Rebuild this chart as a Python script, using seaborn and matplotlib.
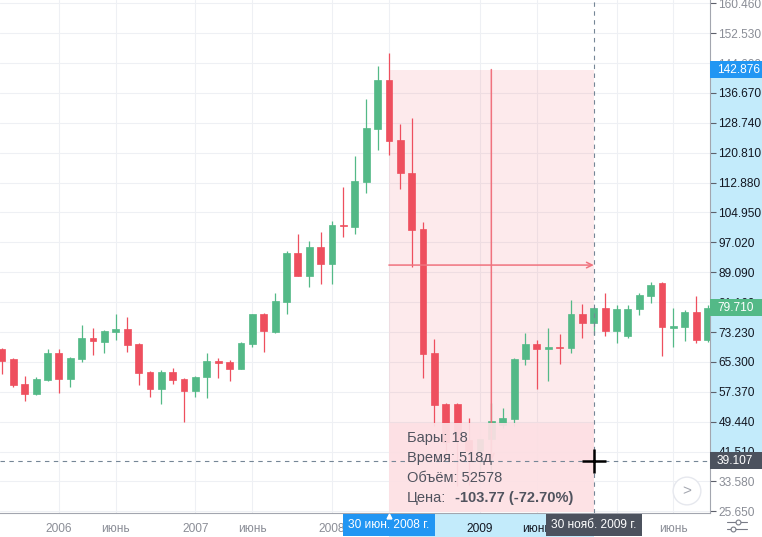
import numpy as np
import pandas as pd
import seaborn as sns
import matplotlib.pyplot as plt
from matplotlib import transforms
from matplotlib.patches import Rectangle
from matplotlib.lines import Line2D

# monthly candles (bar index = position on the time scale)
opens = [68.73, 66.08, 59.45, 56.80, 60.51, 67.67, 60.78, 66.08, 71.64, 70.58,
         73.23, 74.03, 70.05, 62.63, 58.13, 62.63, 60.78, 57.60, 61.31, 65.55,
         65.28, 63.43, 70.05, 78.00, 73.23, 81.18, 94.17, 88.07, 95.76, 91.25,
         101.59, 101.06, 112.98, 127.03, 140.01, 124.11, 115.37, 100.53, 67.67, 54.15,
         54.15, 44.60, 41.70, 44.80, 48.58, 50.17, 66.08, 70.05, 68.73, 69.26,
         68.99, 78.00, 75.62, 79.59, 73.50, 72.17, 79.33, 82.77, 86.22, 74.29,
         74.55, 78.53, 71.11]
highs = [68.99, 66.34, 61.57, 61.31, 68.73, 68.73, 66.60, 75.09, 74.29, 73.76,
         78.00, 77.21, 70.32, 62.90, 63.16, 63.69, 61.04, 61.57, 67.67, 66.34,
         65.81, 70.58, 78.00, 78.27, 83.57, 94.70, 99.20, 97.35, 99.73, 102.65,
         111.66, 119.87, 134.98, 143.72, 147.17, 128.35, 129.94, 102.38, 71.38, 54.40,
         54.40, 50.44, 43.60, 54.40, 53.10, 66.34, 72.97, 71.11, 74.29, 72.70,
         81.71, 80.65, 79.86, 83.57, 80.39, 80.39, 83.57, 86.48, 86.48, 79.59,
         79.06, 82.77, 80.50]
lows = [62.10, 58.66, 54.95, 56.54, 60.25, 57.07, 58.66, 65.28, 67.14, 67.67,
        71.11, 67.93, 59.19, 56.00, 54.15, 59.45, 49.38, 56.00, 55.74, 61.04,
        60.25, 63.43, 69.26, 67.93, 72.97, 78.00, 88.07, 85.16, 85.95, 85.95,
        98.41, 99.20, 110.07, 121.46, 120.14, 111.13, 90.46, 61.04, 48.30, 40.50,
        32.40, 32.70, 33.55, 35.65, 47.79, 48.30, 64.49, 58.13, 60.25, 64.75,
        67.67, 71.64, 72.43, 72.17, 70.32, 71.64, 77.74, 80.92, 66.87, 69.26,
        70.85, 70.32, 70.50]
closes = [65.55, 59.19, 56.80, 60.78, 67.67, 60.78, 66.34, 71.64, 70.85, 73.50,
          74.03, 69.79, 62.37, 58.13, 62.63, 60.51, 57.60, 61.31, 65.55, 65.02,
          63.43, 70.32, 78.00, 73.50, 81.45, 94.17, 88.07, 95.76, 91.25, 101.59,
          101.32, 113.25, 127.29, 140.01, 123.85, 115.37, 100.26, 67.40, 53.90, 44.00,
          44.60, 41.70, 44.76, 49.66, 50.44, 66.08, 70.05, 68.73, 69.26, 68.99,
          78.00, 75.62, 79.59, 73.50, 79.33, 79.33, 83.04, 85.69, 74.55, 74.82,
          78.53, 71.11, 79.71]

tick_pos = [5, 10, 17, 22, 29, 34, 42, 47, 54, 59]
tick_labels = ['2006', 'июнь', '2007', 'июнь', '2008', 'июнь', '2009', 'июнь', '2010', 'июнь']
price_ticks = [25.65, 33.58, 41.51, 49.44, 57.37, 65.30, 73.23, 81.16, 89.09,
               97.02, 104.95, 112.88, 120.81, 128.74, 136.67, 144.60, 152.53, 160.46]

start_bar, end_bar = 34, 52
start_price, end_price = 142.876, 39.107
last_price = 79.71
start_label = '30 июн. 2008 г.'
end_label = '30 нояб. 2009 г.'
stats = ['Бары: 18', 'Время: 518д', 'Объём: 52578']
change_label = 'Цена:'
change_value = '-103.77 (-72.70%)'

df = pd.DataFrame({'open': opens, 'high': highs, 'low': lows, 'close': closes})
df['bar'] = np.arange(len(df))
df['up'] = df['close'] >= df['open']

sns.set_style('white')
plt.rcParams['font.family'] = ['Liberation Sans', 'DejaVu Sans']

W, H = 762, 537
plot_w, plot_h = 710, 513
fig = plt.figure(figsize=(W / 100, H / 100), dpi=100)
ax = fig.add_axes([0, (H - plot_h) / H, plot_w / W, plot_h / H])

ymin, ymax = 25.20, 161.33
bar_px = 11.38
ax.set_xlim(-2 / bar_px, (plot_w - 2) / bar_px)
ax.set_ylim(ymin, ymax)
ppp = (ymax - ymin) / plot_h  # price per pixel

green, red = '#53b987', '#ee4f5e'
colors = np.where(df['up'], green, red)
ax.vlines(df['bar'], df['low'], df['high'], colors=colors, lw=0.9, zorder=2)
ax.bar(df['bar'], (df['close'] - df['open']).abs(),
       bottom=df[['open', 'close']].min(axis=1), width=0.6,
       color=colors, edgecolor=colors, linewidth=0.5, zorder=3)

# price range measurement
ax.add_patch(Rectangle((start_bar, end_price), end_bar - start_bar, start_price - end_price,
                       fc='#f23645', alpha=0.1, lw=0, zorder=1))
mid_price = (start_price + end_price) / 2
mid_bar = (start_bar + end_bar) / 2
arrow = dict(arrowstyle='->', color='#f0727e', lw=1.1, shrinkA=0, shrinkB=0, mutation_scale=10)
ax.annotate('', xy=(end_bar, mid_price), xytext=(start_bar, mid_price), arrowprops=arrow, zorder=4)
ax.annotate('', xy=(mid_bar, end_price), xytext=(mid_bar, start_price), arrowprops=arrow, zorder=4)

# info box
box_top = 49.1
ax.add_patch(Rectangle((start_bar, ymin + ppp), end_bar - start_bar, box_top - ymin - ppp,
                       fc='#fde0e4', alpha=0.93, lw=0, zorder=5))
for k, s in enumerate(stats):
    ax.annotate(s, xy=(start_bar, box_top), xytext=(18, -15 - 20 * k), textcoords='offset pixels',
                va='center', ha='left', fontsize=10.5, color='#50535e', zorder=8)
ax.annotate(change_label, xy=(start_bar, box_top), xytext=(18, -75), textcoords='offset pixels',
            va='center', ha='left', fontsize=10.5, color='#50535e', zorder=8)
ax.annotate(change_value, xy=(start_bar, box_top), xytext=(66, -75), textcoords='offset pixels',
            va='center', ha='left', fontsize=10.5, color='#50535e', fontweight='bold', zorder=8)

# crosshair
ax.axvline(end_bar, color='#758696', lw=0.8, ls=(0, (4, 4)), zorder=6)
ax.axhline(end_price, color='#758696', lw=0.8, ls=(0, (4, 4)), zorder=6)
ax.plot(end_bar, end_price, marker='+', ms=17, mew=1.8, color='black', zorder=9)

# axes styling
ax.grid(True, color='#eef0f4', lw=0.8)
for side in ['top', 'left']:
    ax.spines[side].set_visible(False)
for side in ['right', 'bottom']:
    ax.spines[side].set_color('#a3a6af')
    ax.spines[side].set_linewidth(0.8)

ax.yaxis.tick_right()
ax.set_yticks(price_ticks)
ax.set_yticklabels([f'{t:.3f}' for t in price_ticks])
ax.tick_params(axis='y', length=4, width=0.8, color='#5d606b', pad=2, labelsize=8.6)
for t, lab in zip(price_ticks, ax.get_yticklabels()):
    lab.set_color('#131722' if end_price <= t <= start_price else '#8a8d96')

ax.set_xticks(tick_pos)
ax.set_xticklabels(tick_labels)
ax.tick_params(axis='x', length=3, width=0.8, color='#a3a6af', pad=4, labelsize=8.6)
for p, lab in zip(tick_pos, ax.get_xticklabels()):
    lab.set_color('#131722' if start_bar < p < end_bar else '#8a8d96')
    # labels fully covered by the crosshair date boxes are not drawn
    if p == start_bar or abs(p - end_bar) < 3:
        lab.set_visible(False)

ytrans = transforms.blended_transform_factory(fig.transFigure, ax.transData)
xtrans = ax.get_xaxis_transform()
axis_h = (H - plot_h) / plot_h

# highlighted ranges on the scales
ax.add_patch(Rectangle((plot_w / W, end_price), 1 - plot_w / W, start_price - end_price,
                       transform=ytrans, clip_on=False, fc='#c3ebfb', lw=0, zorder=0.2))
ax.add_patch(Rectangle((start_bar, -axis_h), end_bar - start_bar, axis_h,
                       transform=xtrans, clip_on=False, fc='#c3ebfb', lw=0, zorder=0.2))

# price labels
for price, col in [(start_price, '#2196f3'), (last_price, green), (end_price, '#4c525e')]:
    ax.add_patch(Rectangle((plot_w / W, price - 8.5 * ppp), 1 - plot_w / W, 17 * ppp,
                           transform=ytrans, clip_on=False, fc=col, lw=0, zorder=10))
    ax.text((plot_w + 7) / W, price, f'{price:.3f}', transform=ytrans, va='center', ha='left',
            color='white', fontsize=8.6, clip_on=False, zorder=11)

# date labels
for bar, s, col in [(start_bar, start_label, '#2196f3'), (end_bar, end_label, '#4c525e')]:
    ax.text(bar, -axis_h / 2, s, transform=xtrans, ha='center', va='center', color='white',
            fontsize=8.6, clip_on=False, zorder=11,
            bbox=dict(boxstyle='square,pad=0.45', fc=col, ec='none'))
ax.plot(start_bar, -0.006, marker='^', ms=3.5, color='white', transform=xtrans,
        clip_on=False, zorder=12)

# scroll button and settings icon
ax.text(687 / plot_w, 1 - 491 / plot_h, '>', transform=ax.transAxes, ha='center', va='center',
        fontsize=11, color='#a3a6af', zorder=7,
        bbox=dict(boxstyle='circle,pad=0.45', fc='white', ec='#e6e8ee', lw=1))
px = transforms.IdentityTransform()
for y, cx in [(H - 521.5, 738), (H - 528.5, 733)]:
    fig.add_artist(Line2D([727, 747], [y, y], color='#787b86', lw=0.8, transform=px))
    fig.add_artist(Line2D([cx], [y], marker='o', ms=3.5, mfc='white', mec='#787b86',
                          mew=0.8, transform=px))

fig.savefig('out.png', dpi=100)
